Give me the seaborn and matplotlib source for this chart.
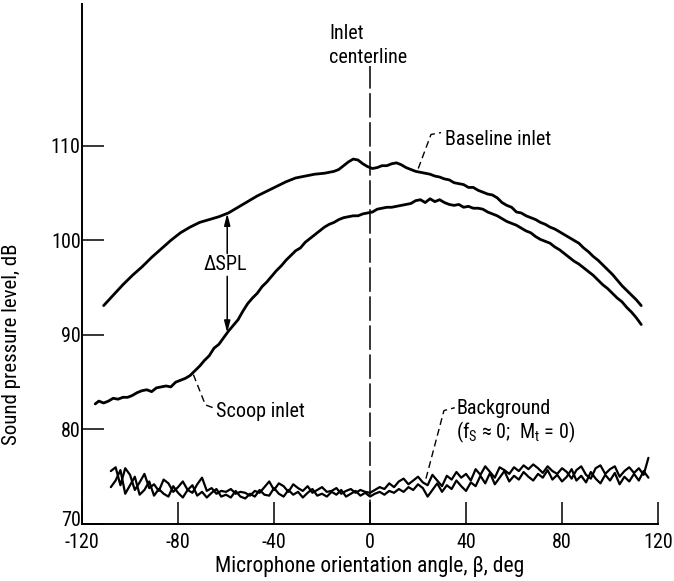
import numpy as np
import pandas as pd
import matplotlib
matplotlib.use("Agg")
import matplotlib.pyplot as plt
import matplotlib.transforms as mtransforms
import seaborn as sns

# Microphone orientation angle (deg) and sound pressure level (dB)
baseline_angle = [-111, -107, -103, -99, -95, -91, -87, -83, -79, -75, -71, -67, -63, -59,
                  -55, -51, -47, -43, -39, -35, -31, -27, -23, -19, -15, -13, -11, -9, -7,
                  -5, -3, -1, 1, 3, 5, 7, 9, 11, 13, 15, 17, 19, 21, 23, 25, 27, 29, 31, 33,
                  35, 37, 39, 41, 43, 45, 47, 49, 51, 53, 55, 57, 59, 61, 63, 65, 67, 69, 71,
                  73, 75, 77, 79, 81, 83, 85, 87, 89, 91, 93, 95, 97, 99, 101, 103, 105, 107,
                  109, 111, 113]
baseline_spl = [93.1, 94.2, 95.3, 96.3, 97.2, 98.2, 99.1, 100.0, 100.8, 101.4, 101.9, 102.2,
                102.5, 102.9, 103.5, 104.1, 104.7, 105.2, 105.7, 106.2, 106.6, 106.8, 107.0,
                107.1, 107.3, 107.5, 107.9, 108.3, 108.6, 108.5, 108.1, 107.8, 107.6, 107.7,
                107.9, 107.9, 108.1, 108.2, 108.0, 107.7, 107.5, 107.3, 107.2, 107.1, 107.0,
                106.8, 106.7, 106.5, 106.4, 106.1, 106.0, 105.9, 105.6, 105.6, 105.3, 105.1,
                104.9, 104.8, 104.5, 104.0, 103.7, 103.5, 103.0, 102.9, 102.6, 102.4, 102.2,
                101.9, 101.7, 101.4, 101.2, 100.9, 100.6, 100.3, 100.0, 99.7, 99.2, 98.8,
                98.3, 97.9, 97.4, 96.9, 96.4, 95.8, 95.2, 94.7, 94.2, 93.7, 93.1]

scoop_angle = [-114.5, -113, -111, -109, -107, -105, -103, -101, -99, -97, -95, -93, -91,
               -89, -87, -85, -83, -81, -79, -77, -75, -73, -71, -69, -67, -65, -63, -61,
               -59, -57, -55, -53, -51, -49, -47, -45, -43, -41, -39, -37, -35, -33, -31,
               -29, -27, -25, -23, -21, -19, -17, -15, -13, -11, -9, -7, -5, -3, -1, 1, 3,
               5, 7, 9, 11, 13, 15, 17, 19, 21, 23, 25, 27, 29, 31, 33, 35, 37, 39, 41, 43,
               45, 47, 49, 51, 53, 55, 57, 59, 61, 63, 65, 67, 69, 71, 73, 75, 77, 79, 81,
               83, 85, 87, 89, 91, 93, 95, 97, 99, 101, 103, 105, 107, 109, 111, 113]
scoop_spl = [82.7, 83.0, 82.8, 83.0, 83.3, 83.2, 83.4, 83.4, 83.6, 83.9, 84.1, 84.2, 84.0,
             84.4, 84.5, 84.6, 84.5, 85.0, 85.2, 85.4, 85.7, 86.2, 86.7, 87.3, 87.8, 88.6,
             89.0, 89.7, 90.4, 91.0, 91.6, 92.5, 93.3, 93.9, 94.4, 95.1, 95.6, 96.2, 96.8,
             97.3, 97.9, 98.4, 98.9, 99.2, 99.8, 100.2, 100.6, 101.0, 101.4, 101.7, 101.9,
             102.2, 102.4, 102.5, 102.6, 102.6, 102.8, 102.9, 103.0, 103.3, 103.4, 103.5,
             103.5, 103.6, 103.7, 103.8, 103.9, 104.2, 104.3, 104.0, 104.4, 104.1, 104.3,
             104.0, 103.8, 103.7, 103.8, 103.5, 103.6, 103.4, 103.4, 103.3, 103.0, 102.8,
             102.6, 102.3, 102.0, 101.8, 101.6, 101.3, 101.0, 100.8, 100.4, 100.1, 99.9,
             99.7, 99.3, 99.0, 98.6, 98.2, 97.8, 97.5, 97.1, 96.7, 96.3, 95.8, 95.3, 94.9,
             94.4, 93.9, 93.5, 92.9, 92.4, 91.8, 91.1]

background_angle = list(range(-108, 117, 2))
background_a = [75.6, 76.0, 74.1, 75.9, 75.2, 73.6, 74.4, 75.3, 73.8, 74.2, 73.5, 74.7, 74.3,
                73.4, 73.9, 74.5, 73.6, 73.3, 74.2, 74.9, 73.5, 73.8, 73.2, 73.5, 73.4, 73.7,
                73.2, 73.4, 73.3, 73.0, 73.5, 73.3, 73.9, 74.5, 73.6, 74.3, 74.0, 73.4, 74.2,
                73.8, 73.5, 74.0, 73.3, 73.6, 73.9, 73.4, 73.5, 73.8, 73.2, 73.5, 73.7, 73.3,
                73.6, 73.4, 73.3, 73.6, 73.9, 73.7, 74.3, 73.9, 74.5, 74.8, 74.2, 74.6, 75.0,
                74.4, 74.1, 75.2, 74.6, 74.0, 75.1, 74.7, 75.5, 74.9, 75.3, 74.6, 75.8, 75.2,
                76.1, 75.5, 74.9, 76.0, 75.7, 75.3, 76.0, 75.6, 76.2, 75.8, 76.3, 75.9, 75.4,
                76.1, 75.6, 75.3, 75.9, 75.5, 74.8, 75.7, 76.1, 75.2, 74.8, 75.9, 76.2, 75.3,
                75.8, 76.1, 75.0, 75.6, 76.0, 75.4, 75.9, 75.2, 77.0]
background_b = [73.9, 74.6, 75.7, 73.2, 74.1, 75.0, 73.1, 73.6, 74.5, 73.0, 73.7, 73.2, 72.9,
                74.0, 73.3, 72.8, 73.6, 74.1, 73.0, 73.4, 72.8, 73.3, 73.7, 72.9, 73.1, 72.8,
                73.5, 72.9, 72.7, 73.2, 72.9, 73.6, 73.1, 73.0, 73.8, 73.2, 72.9, 73.6, 73.1,
                73.4, 72.8, 73.3, 73.7, 73.0, 73.2, 72.9, 73.4, 73.1, 73.6, 72.9, 73.2, 73.5,
                73.0, 73.3, 72.9, 73.2, 73.4, 73.1, 73.5, 73.3, 73.7, 73.4, 73.9, 73.6, 74.2,
                73.8, 72.9, 73.6, 74.3, 73.4, 74.1, 73.7, 74.6, 74.0, 73.5, 74.4, 74.0, 75.1,
                74.3, 75.4, 74.2, 74.9, 75.6, 74.5, 75.1, 74.7, 75.5, 75.0, 74.6, 75.3, 74.9,
                75.7, 74.7, 75.2, 74.5, 75.0, 75.8, 74.6, 75.1, 74.4, 75.5, 74.8, 74.3, 75.2,
                74.6, 75.4, 74.2, 75.0, 74.5, 75.3, 74.6, 75.6, 74.9]

x_ticks = [-120, -80, -40, 0, 40, 80, 120]
y_ticks = [70, 80, 90, 100, 110]

sns.set_style("ticks")
plt.rcParams["font.family"] = ["Roboto Condensed", "DejaVu Sans"]
plt.rcParams["mathtext.default"] = "regular"
for key in ("text.color", "axes.labelcolor", "xtick.color", "ytick.color", "axes.edgecolor"):
    plt.rcParams[key] = "black"

FS = 14.5

fig = plt.figure(figsize=(6.74, 5.81), dpi=100)
ax = fig.add_axes([0.1217, 0.0981, 0.8546, 0.895])

ink = "black"
curves = [
    (baseline_angle, baseline_spl, 2.0),
    (scoop_angle, scoop_spl, 2.0),
    (background_angle, background_a, 1.6),
    (background_angle, background_b, 1.6),
]
for ang, spl, lw in curves:
    df = pd.DataFrame({"angle": ang, "spl": spl})
    sns.lineplot(data=df, x="angle", y="spl", ax=ax, color=ink, lw=lw,
                 sort=False, estimator=None)

# inlet centerline
ax.plot([0, 0], [70, 118.4], color=ink, lw=1.1, ls=(0, (16, 3)))
ax.text(-17, 122.9, "Inlet", fontsize=FS, va="top", ha="left")
ax.text(-17, 118.8, "centerline", fontsize=FS, va="baseline", ha="left")

# delta SPL between the two inlets
x_d = -59.5
top_val = np.interp(x_d, baseline_angle, baseline_spl)
bot_val = np.interp(x_d, scoop_angle, scoop_spl)
ax.text(x_d - 0.8, 97.4, "ΔSPL", fontsize=FS, ha="center", va="center")
arrow = dict(arrowstyle="-|>,head_length=0.7,head_width=0.18", color=ink, lw=1.1,
             shrinkA=0, shrinkB=0)
ax.annotate("", xy=(x_d, top_val), xytext=(x_d, 98.6), arrowprops=arrow)
ax.annotate("", xy=(x_d, bot_val), xytext=(x_d, 96.2), arrowprops=arrow)

# curve labels with dashed leaders
lead = dict(color=ink, lw=1.0, ls=(0, (5, 3)))
ax.plot([20.1, 25.4, 29.6], [107.6, 111.2, 111.4], **lead)
ax.text(31.3, 110.1, "Baseline inlet", fontsize=FS, va="baseline", ha="left")

ax.plot([-73.6, -68.6, -65.4], [85.8, 82.6, 82.3], **lead)
ax.text(-64.2, 81.3, "Scoop inlet", fontsize=FS, va="baseline", ha="left")

ax.plot([23.3, 30.8, 35.3], [74.8, 82.0, 82.3], **lead)
ax.text(36.0, 81.6, "Background", fontsize=FS, va="baseline", ha="left")
ax.text(36.0, 79.1, r"(f$_{S}$ ≈ 0;  M$_{t}$ = 0)", fontsize=FS, va="baseline", ha="left")

ax.set_xlim(-120, 120)
ax.set_ylim(70, 125)
ax.set_xticks(x_ticks)
ax.set_yticks(y_ticks)
ax.set_xticklabels([str(t) for t in x_ticks])
ax.set_yticklabels([str(t) for t in y_ticks])
ax.tick_params(axis="both", direction="in", length=16, width=1.1, colors=ink,
               labelsize=FS)
ax.tick_params(axis="x", pad=6.5)
ax.tick_params(axis="y", pad=1)
sns.despine(ax=ax)
for s in ("left", "bottom"):
    ax.spines[s].set_linewidth(1.4)
    ax.spines[s].set_color(ink)

# lift the corner "70" label clear of the "-120" below it
corner = ax.get_yticklabels()[0]
corner.set_transform(corner.get_transform()
                     + mtransforms.ScaledTranslation(0, 4 / 72, fig.dpi_scale_trans))

ax.set_xlabel("Microphone orientation angle, β, deg", fontsize=FS + 1, labelpad=3)
ax.set_ylabel("Sound pressure level, dB", fontsize=FS + 0.5)
ax.yaxis.set_label_coords(-0.106, 0.345)

fig.savefig("out.png", dpi=100)
